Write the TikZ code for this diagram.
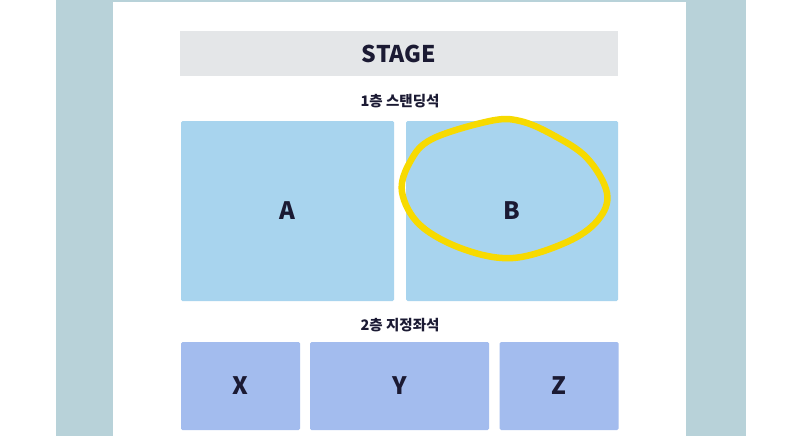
\documentclass[tikz,border=0pt]{standalone}
\usepackage{fontspec}
\setmainfont{Noto Sans CJK KR}
\usepackage{tikz}
\definecolor{bandcolor}{HTML}{B8D2D9}
\definecolor{stagecolor}{HTML}{E4E6E8}
\definecolor{standcolor}{HTML}{A8D4EE}
\definecolor{seatcolor}{HTML}{A3BCEE}
\definecolor{inkcolor}{HTML}{1B1A33}
\definecolor{markcolor}{HTML}{F7DA00}
\tikzset{
  area/.style={rectangle, rounded corners=1.5pt, inner sep=0pt, text=inkcolor, font=\bfseries\fontsize{24}{24}\selectfont},
  standbox/.style={area, fill=standcolor, minimum width=213pt, minimum height=180pt},
  seatbox/.style={area, fill=seatcolor, minimum height=88pt},
  floorlabel/.style={text=inkcolor, font=\bfseries\fontsize{14.5}{15}\selectfont}
}

\begin{document}
\begin{tikzpicture}[x=1pt, y=-1pt]
\useasboundingbox (0,0) rectangle (800,436);
% page background
\fill[white] (0,0) rectangle (800,436);
\fill[bandcolor] (56,0) rectangle (113,436);
\fill[bandcolor] (686,0) rectangle (746,436);
\fill[bandcolor] (113,0) rectangle (686,2);
% stage
\node[rectangle, fill=stagecolor, minimum width=438pt, minimum height=45pt, inner sep=0pt, text=inkcolor, font=\bfseries\fontsize{23}{23}\selectfont] (stage) at (399,53.5) {STAGE};
% 1st floor
\node[floorlabel] (floor1) at (400,101) {1층 스탠딩석};
\node[standbox] (A) at (287.5,211) {A};
\node[standbox, minimum width=212pt] (B) at (512,211) {B};
% 2nd floor
\node[floorlabel] (floor2) at (400,325) {2층 지정좌석};
\node[seatbox, minimum width=119pt] (X) at (240.5,386) {X};
\node[seatbox, minimum width=179pt] (Y) at (399.5,386) {Y};
\node[seatbox, minimum width=119pt] (Z) at (559,386) {Z};
% mark round B
\draw[markcolor, line width=6.5pt, line cap=round] plot[smooth cycle, tension=0.6] coordinates {
  (490,121) (520,121) (553,135) (587,158) (607,193) (598,220) (567,242)
  (513,258) (463,249) (420,225) (402,192) (410,162) (432,139)};
\end{tikzpicture}
\end{document}
